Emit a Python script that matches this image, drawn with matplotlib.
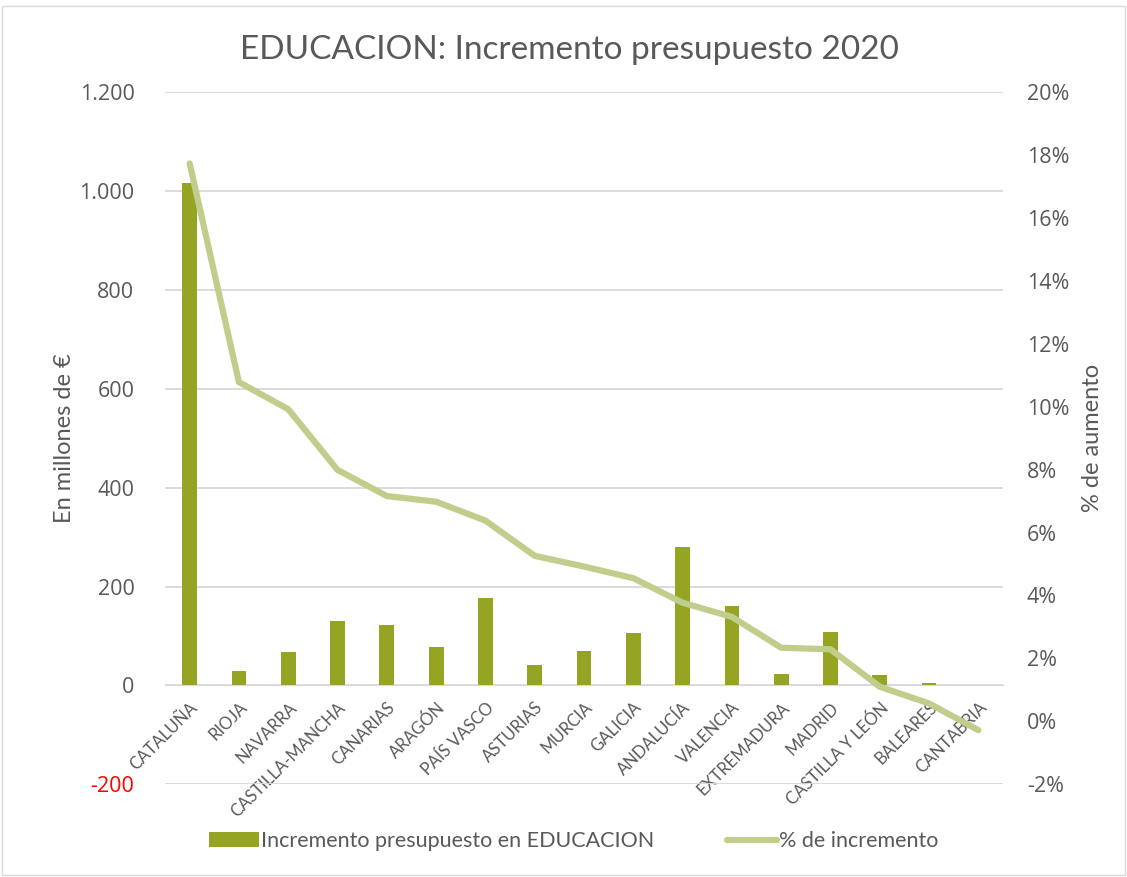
import matplotlib.pyplot as plt
from matplotlib.patches import Rectangle
from matplotlib.ticker import FuncFormatter, MultipleLocator

# Datos (millones de euros y % de aumento)
comunidades = ["CATALUÑA", "RIOJA", "NAVARRA", "CASTILLA-MANCHA", "CANARIAS", "ARAGÓN",
               "PAÍS VASCO", "ASTURIAS", "MURCIA", "GALICIA", "ANDALUCÍA", "VALENCIA",
               "EXTREMADURA", "MADRID", "CASTILLA Y LEÓN", "BALEARES", "CANTABRIA"]
incremento = [1015, 29, 68, 131, 122, 77, 176, 41, 70, 106, 280, 161, 24, 108, 21, 5, 1]
pct_incremento = [17.73, 10.78, 9.92, 7.99, 7.16, 6.98, 6.38, 5.26, 4.92, 4.55, 3.77,
                  3.32, 2.34, 2.29, 1.10, 0.57, -0.28]

texto = "#595959"
rejilla = "#d9d9d9"
color_barra = "#95A523"
color_linea = "#C1CE8B"

fig = plt.figure(figsize=(11.27, 8.77), dpi=100)
ax = fig.add_axes([0.1464, 0.1057, 0.7436, 0.7894])
ax2 = ax.twinx()

x = list(range(len(comunidades)))
barras = ax.bar(x, incremento, width=0.3, color=color_barra, zorder=3,
                label="Incremento presupuesto en EDUCACION")
linea, = ax2.plot(x, pct_incremento, color=color_linea, lw=4.5, solid_capstyle="round",
                  solid_joinstyle="round", zorder=4, label="% de incremento")

ax.set_ylim(-200, 1200)
ax2.set_ylim(-2, 20)
ax.set_xlim(-0.5, len(comunidades) - 0.5)
ax.yaxis.set_major_locator(MultipleLocator(200))
ax2.yaxis.set_major_locator(MultipleLocator(2))

ax.yaxis.set_major_formatter(FuncFormatter(lambda v, p: f"{int(v):,}".replace(",", ".")))
ax2.yaxis.set_major_formatter(FuncFormatter(lambda v, p: f"{int(round(v))}%"))

ax.grid(axis="y", color=rejilla, lw=1.3, zorder=0)
ax.set_axisbelow(True)
for a in (ax, ax2):
    for s in a.spines.values():
        s.set_visible(False)
ax.spines["bottom"].set_visible(True)
ax.spines["bottom"].set_position(("data", 0))
ax.spines["bottom"].set_color(rejilla)

ax.tick_params(axis="y", length=0, pad=22, labelsize=15.5, labelcolor=texto,
               labelfontfamily="Open Sans")
ax2.tick_params(axis="y", length=0, pad=17, labelsize=15.5, labelcolor=texto,
                labelfontfamily="Open Sans")
fig.canvas.draw()
for lab in ax.get_yticklabels():
    if lab.get_text().startswith("-"):
        lab.set_color("red")

ax.set_xticks(x)
ax.set_xticklabels(comunidades, rotation=45, ha="right", va="top", rotation_mode="anchor",
                   fontsize=12, color=texto, fontfamily="Lato")
ax.tick_params(axis="x", length=0, pad=10)

ax.set_ylabel("En millones de €", fontsize=17, color=texto, fontfamily="Lato", labelpad=3)
ax2.set_ylabel("% de aumento", fontsize=17, color=texto, fontfamily="Lato", rotation=90,
               labelpad=9)

fig.text(0.505, 0.943, "EDUCACION: Incremento presupuesto 2020", ha="center", va="center",
         fontsize=24, color=texto, fontfamily="Lato")

fig.legend(handles=[barras, linea], loc="center", bbox_to_anchor=(0.509, 0.041), ncol=2,
           frameon=False, labelcolor=texto, handlelength=2.3, handletextpad=0.1,
           columnspacing=3.4, prop={"family": "Lato", "size": 15.5})

fig.patches.append(Rectangle((0.002, 0.002), 0.996, 0.991, transform=fig.transFigure,
                             fill=False, edgecolor=rejilla, lw=1))

plt.savefig("out.png", dpi=100)
